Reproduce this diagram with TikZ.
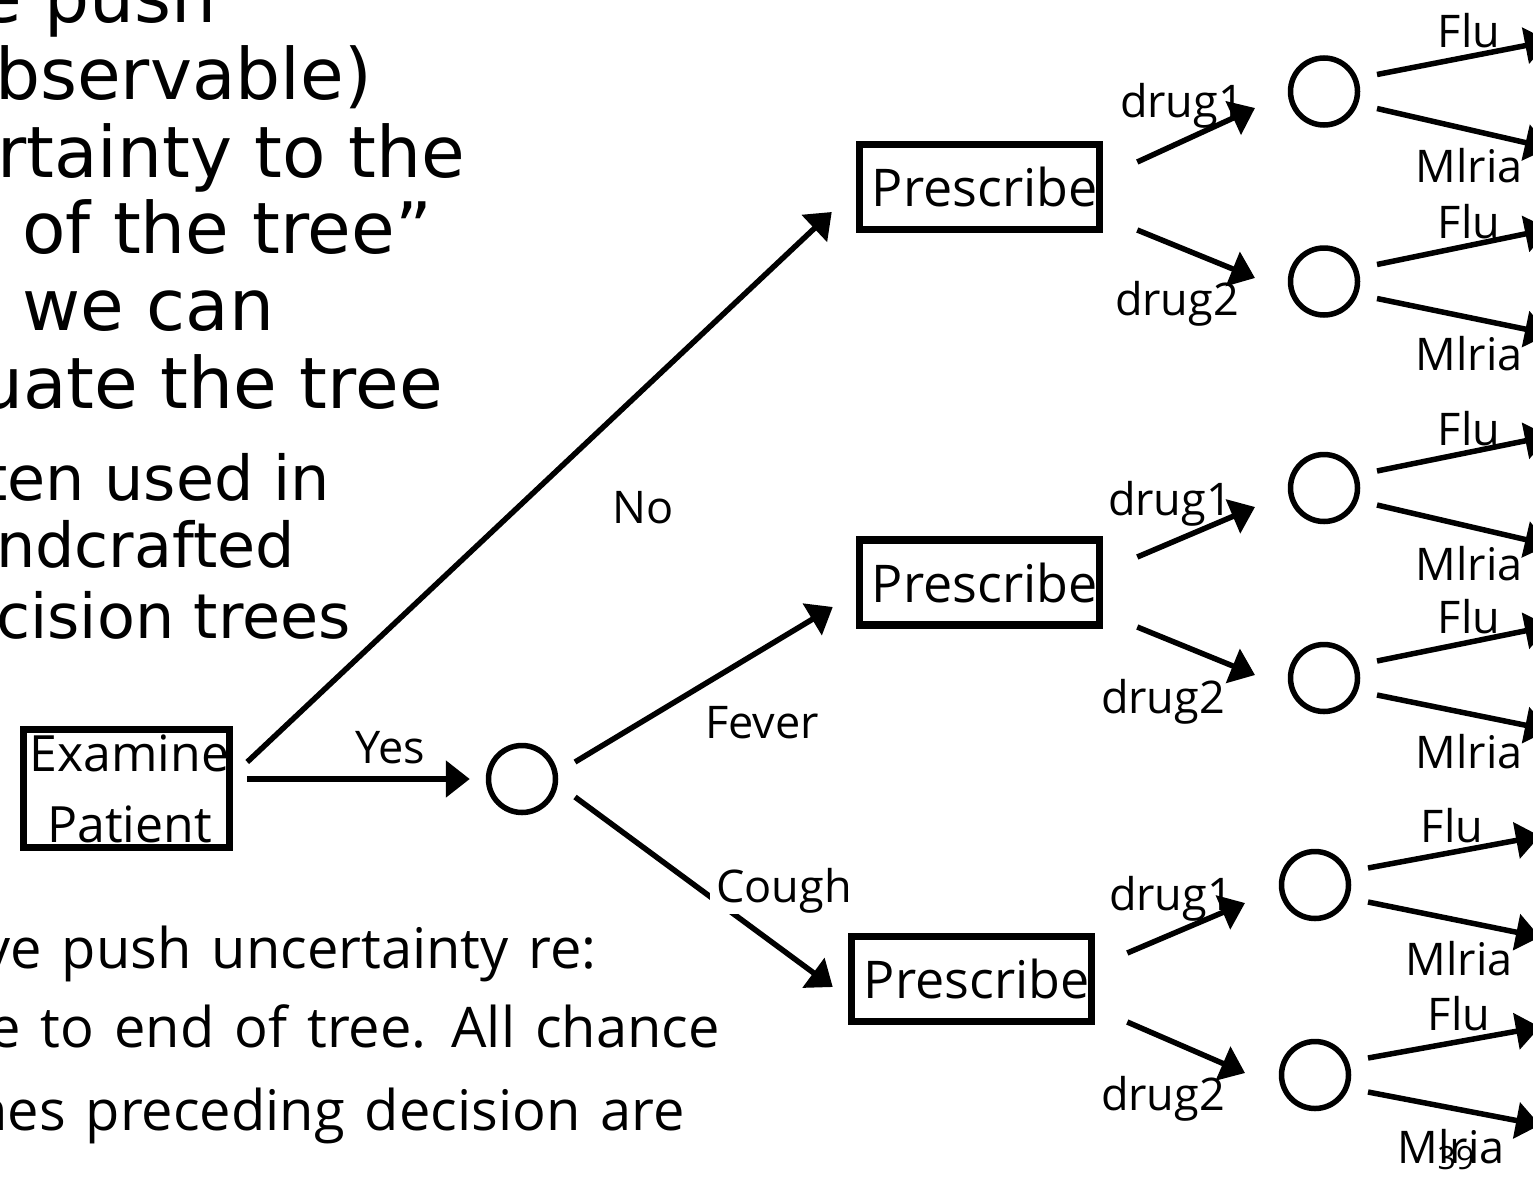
\documentclass[tikz,border=0pt]{standalone}
\usepackage{fontspec}
\setmainfont{Open Sans}
\newfontfamily\slidefont{DejaVu Sans}
\newcommand{\widespace}{\spaceskip=20pt plus 2pt\relax}
\usetikzlibrary{arrows.meta,positioning}
\tikzset{
	decision/.style={draw, line width=7.5pt, inner sep=0pt},
	pres/.style={decision, minimum width=240pt, minimum height=85pt, text width=236pt, align=right, text depth=0pt, font=\fontsize{52}{52}\selectfont},
	chance/.style={draw, circle, line width=5.5pt, minimum size=67pt, inner sep=0pt},
	branch/.style={line width=5.5pt, -{Triangle[length=24pt,width=36pt]}},
	lab/.style={anchor=base, inner sep=1pt, font=\fontsize{45}{45}\selectfont},
	bigtext/.style={anchor=base west, inner sep=0pt, font=\slidefont\fontsize{71}{71}\selectfont},
	midtext/.style={anchor=base west, inner sep=0pt, font=\slidefont\fontsize{62}{62}\selectfont},
	comictext/.style={anchor=base east, inner sep=0pt, font=\fontsize{56}{56}\selectfont\widespace}
}
\begin{document}
\begin{tikzpicture}[x=1pt,y=-1pt]
	\useasboundingbox (0,0) rectangle (1533,1178);
	\clip (0,0) rectangle (1533,1178);
	% Slide text:
	\node[bigtext] (t1) at (-22,22) {e push};
	\node[bigtext] (t2) at (-5,99) {bservable)};
	\node[bigtext] (t3) at (-3,177) {rtainty to the};
	\node[bigtext] (t4) at (22,253) {of the tree”};
	\node[bigtext] (t5) at (22,330) {we can};
	\node[bigtext] (t6) at (-22,408) {uate the tree};
	\node[midtext] (t7) at (-17,500) {ten used in};
	\node[midtext] (t8) at (-4,567) {ndcrafted};
	\node[midtext] (t9) at (-4,638) {cision trees};
	\node[comictext] (b1) at (597,968) {ve push uncertainty re:};
	\node[comictext] (b2) at (720,1047) {e to end of tree. All chance};
	\node[comictext] (b3) at (685,1130) {nes preceding decision are};
	% Decisions:
	\node[decision, minimum width=206pt, minimum height=118pt] (exam) at (126.5,788.5) {};
	\node[align=center, inner sep=0pt, font=\fontsize{50}{71}\selectfont] (examtxt) at ([xshift=3pt]exam.center) {Examine\\Patient};
	\node[pres] (pres1) at (979.5,187) {Prescribe};
	\node[pres] (pres2) at (979.5,582.5) {Prescribe};
	\node[pres] (pres3) at (971.5,979) {Prescribe};
	% Chances:
	\node[chance] (c0) at (522,779) {};
	\node[chance] (c1) at (1324,91.5) {};
	\node[chance] (c2) at (1324,281.5) {};
	\node[chance] (c3) at (1324,488) {};
	\node[chance] (c4) at (1324,678) {};
	\node[chance] (c5) at (1315,885) {};
	\node[chance] (c6) at (1315,1075) {};
	% Outcome ends:
	\coordinate (f1) at (1549,41);   \coordinate (m1) at (1549,148);
	\coordinate (f2) at (1549,229);  \coordinate (m2) at (1549,334);
	\coordinate (f3) at (1549,436);  \coordinate (m3) at (1549,545);
	\coordinate (f4) at (1549,626);  \coordinate (m4) at (1549,730);
	\coordinate (f5) at (1540,836);  \coordinate (m5) at (1540,937);
	\coordinate (f6) at (1540,1027); \coordinate (m6) at (1540,1125);
	% Branches:
	\draw[branch] ([shift={(14,-26.5)}]exam.east) -- ([shift={(-24,25)}]pres1.west); % No
	\draw[branch] ([shift={(14,-9.5)}]exam.east) -- ([shift={(-16,0)}]c0.west); % Yes
	\draw[branch] ([shift={(53,-17)}]c0.center) -- ([shift={(-23,24.5)}]pres2.west); % Fever
	\draw[branch] ([shift={(53,18)}]c0.center) -- ([shift={(-15,8)}]pres3.west); % Cough
	% Drugs:
	\draw[branch] ([shift={(34,-25)}]pres1.east) -- ([shift={(-69,16.5)}]c1.center);
	\draw[branch] ([shift={(34,43)}]pres1.east) -- ([shift={(-69,-3.5)}]c2.center);
	\draw[branch] ([shift={(34,-25.5)}]pres2.east) -- ([shift={(-69,19)}]c3.center);
	\draw[branch] ([shift={(34,44.5)}]pres2.east) -- ([shift={(-69,-3)}]c4.center);
	\draw[branch] ([shift={(32,-26)}]pres3.east) -- ([shift={(-70,18)}]c5.center);
	\draw[branch] ([shift={(32,43)}]pres3.east) -- ([shift={(-70,-2)}]c6.center);
	% Outcomes:
	\draw[branch] ([shift={(53,-17)}]c1.center) -- (f1);
	\draw[branch] ([shift={(53,17)}]c1.center) -- (m1);
	\draw[branch] ([shift={(53,-17)}]c2.center) -- (f2);
	\draw[branch] ([shift={(53,17)}]c2.center) -- (m2);
	\draw[branch] ([shift={(53,-17)}]c3.center) -- (f3);
	\draw[branch] ([shift={(53,17)}]c3.center) -- (m3);
	\draw[branch] ([shift={(53,-17)}]c4.center) -- (f4);
	\draw[branch] ([shift={(53,17)}]c4.center) -- (m4);
	\draw[branch] ([shift={(53,-17)}]c5.center) -- (f5);
	\draw[branch] ([shift={(53,17)}]c5.center) -- (m5);
	\draw[branch] ([shift={(53,-17)}]c6.center) -- (f6);
	\draw[branch] ([shift={(53,17)}]c6.center) -- (m6);
	% Labels:
	\node[lab] (lyes) at (390,763) {Yes};
	\node[lab] (lno) at (643,523) {No};
	\node[lab] (lfever) at (762,738) {Fever};
	\node[lab, fill=white, inner xsep=6pt] (lcough) at (784,902) {Cough};
	\node[lab] (ld11) at (1182,117) {drug1};
	\node[lab] (ld12) at (1177,315) {drug2};
	\node[lab] (ld21) at (1170,515) {drug1};
	\node[lab] (ld22) at (1163,713) {drug2};
	\node[lab] (ld31) at (1171,910) {drug1};
	\node[lab] (ld32) at (1163,1110) {drug2};
	\node[lab] (lf1) at (1469,47) {Flu};
	\node[lab] (lm1) at (1469,182) {Mlria};
	\node[lab] (lf2) at (1469,238) {Flu};
	\node[lab] (lm2) at (1469,370) {Mlria};
	\node[lab] (lf3) at (1469,445) {Flu};
	\node[lab] (lm3) at (1469,580) {Mlria};
	\node[lab] (lf4) at (1469,633) {Flu};
	\node[lab] (lm4) at (1469,768) {Mlria};
	\node[lab] (lf5) at (1452,842) {Flu};
	\node[lab] (lm5) at (1459,975) {Mlria};
	\node[lab] (lf6) at (1459,1030) {Flu};
	\node[lab] (lm6) at (1451,1163) {Mlria};
	\node[lab, font=\fontsize{32}{32}\selectfont] (pgnum) at (1456,1169) {39};
\end{tikzpicture}
\end{document}
